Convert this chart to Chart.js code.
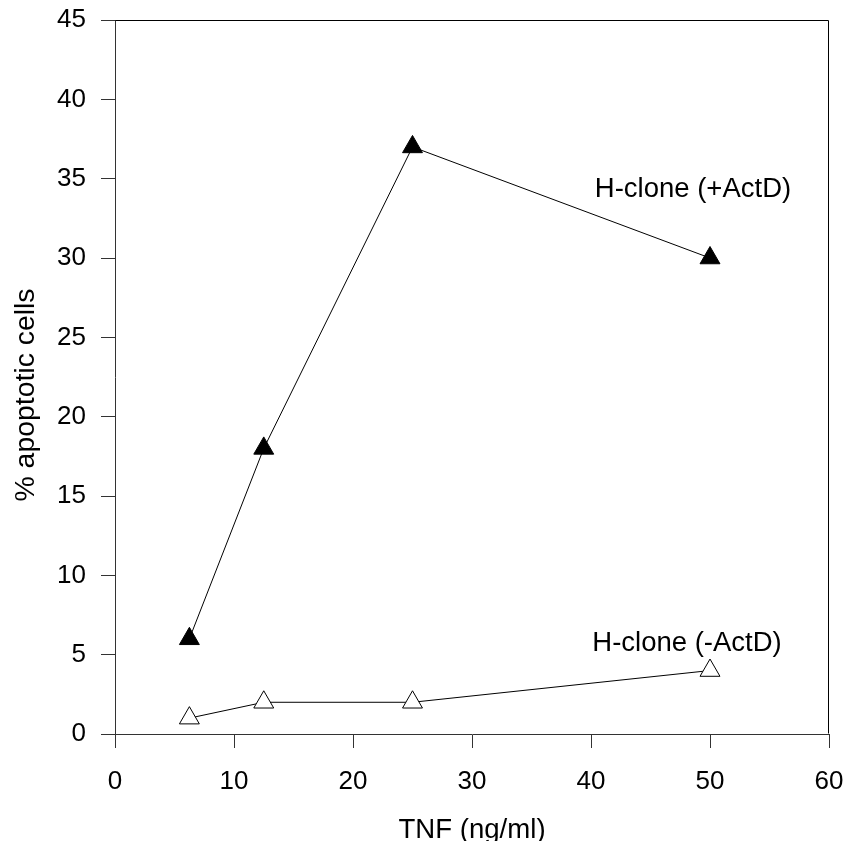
<!DOCTYPE html>
<html lang="en">
<head>
    <meta charset="UTF-8">
    <title>% apoptotic cells vs TNF</title>
    <script src="https://cdn.jsdelivr.net/npm/chart.js"></script>
    <style>
        html, body {
            margin: 0;
            padding: 0;
            background: #ffffff;
            overflow: hidden;
        }
        #wrap {
            width: 846px;
            height: 841px;
        }
    </style>
</head>
<body>
    <div id="wrap"><canvas id="chart"></canvas></div>
    <script>
        // TNF doses (ng/ml)
        const tnfDose = [6.25, 12.5, 25, 50];
        // % apoptotic cells
        const withActD = [6, 18, 37, 30];
        const withoutActD = [1, 2, 2, 4];

        const xTicks = [0, 10, 20, 30, 40, 50, 60];
        const yTicks = [0, 5, 10, 15, 20, 25, 30, 35, 40, 45];

        // series labels, anchored in data units (centre x, baseline y)
        const labelText = ['H-clone (+ActD)', 'H-clone (-ActD)'];
        const labelX = [48.57, 48.07];
        const labelY = [33.85, 5.2];

        const xTitle = 'TNF (ng/ml)';
        const yTitle = '% apoptotic cells';

        const FONT = 'Arial, "Liberation Sans", sans-serif';

        const frameAndLabels = {
            id: 'frameAndLabels',
            afterDatasetsDraw(chart) {
                const ctx = chart.ctx;
                const a = chart.chartArea;
                ctx.save();
                // top and right edges of the frame
                ctx.strokeStyle = '#000';
                ctx.lineWidth = 1;
                ctx.beginPath();
                ctx.moveTo(Math.round(a.left) + 0.5, Math.round(a.top) + 0.5);
                ctx.lineTo(Math.round(a.right) - 0.5, Math.round(a.top) + 0.5);
                ctx.lineTo(Math.round(a.right) - 0.5, Math.round(a.bottom) - 0.5);
                ctx.stroke();

                ctx.fillStyle = '#000';
                ctx.textAlign = 'center';
                ctx.textBaseline = 'alphabetic';
                ctx.font = '27.5px ' + FONT;
                const xs = chart.scales.x, ys = chart.scales.y;
                labelText.forEach((t, i) => {
                    ctx.fillText(t, xs.getPixelForValue(labelX[i]), ys.getPixelForValue(labelY[i]));
                });

                // axis titles
                ctx.font = '27.6px ' + FONT;
                ctx.fillText(xTitle, (a.left + a.right) / 2, 838);
                ctx.translate(34, (a.top + a.bottom) / 2 + 18);
                ctx.rotate(-Math.PI / 2);
                ctx.font = '28.4px ' + FONT;
                ctx.fillText(yTitle, 0, 0);
                ctx.restore();
            }
        };

        new Chart(document.getElementById('chart'), {
            type: 'scatter',
            data: {
                datasets: [
                    {
                        label: 'H-clone (+ActD)',
                        data: tnfDose.map((x, i) => ({ x: x, y: withActD[i] })),
                        showLine: true,
                        borderColor: '#000',
                        borderWidth: 1,
                        pointStyle: 'triangle',
                        pointRadius: 11.5,
                        pointBackgroundColor: '#000',
                        pointBorderColor: '#000',
                        pointBorderWidth: 1
                    },
                    {
                        label: 'H-clone (-ActD)',
                        data: tnfDose.map((x, i) => ({ x: x, y: withoutActD[i] })),
                        showLine: true,
                        borderColor: '#000',
                        borderWidth: 1,
                        pointStyle: 'triangle',
                        pointRadius: 11.5,
                        pointBackgroundColor: '#fff',
                        pointBorderColor: '#000',
                        pointBorderWidth: 1
                    }
                ]
            },
            options: {
                responsive: true,
                maintainAspectRatio: false,
                animation: false,
                layout: {
                    padding: { top: 20, right: 17, left: 0, bottom: 0 }
                },
                plugins: {
                    legend: { display: false },
                    tooltip: { enabled: false }
                },
                scales: {
                    x: {
                        type: 'linear',
                        min: 0,
                        max: 60,
                        afterBuildTicks(s) { s.ticks = xTicks.map(v => ({ value: v })); },
                        afterFit(s) {
                            s.height = 107;
                            s.paddingLeft = 0;
                            s.paddingRight = 0;
                        },
                        border: { color: '#333', width: 1 },
                        grid: { drawOnChartArea: false, tickLength: 14, color: '#333' },
                        ticks: {
                            color: '#000',
                            padding: 18,
                            font: { family: FONT, size: 26 },
                            maxRotation: 0
                        }
                    },
                    y: {
                        type: 'linear',
                        min: 0,
                        max: 45,
                        afterBuildTicks(s) { s.ticks = yTicks.map(v => ({ value: v })); },
                        afterFit(s) {
                            s.width = 115;
                            s.paddingTop = 0;
                            s.paddingBottom = 0;
                        },
                        border: { color: '#333', width: 1 },
                        grid: { drawOnChartArea: false, tickLength: 14, color: '#333' },
                        ticks: {
                            color: '#000',
                            padding: 15,
                            font: { family: FONT, size: 26 }
                        }
                    }
                }
            },
            plugins: [frameAndLabels]
        });
    </script>
</body>
</html>
